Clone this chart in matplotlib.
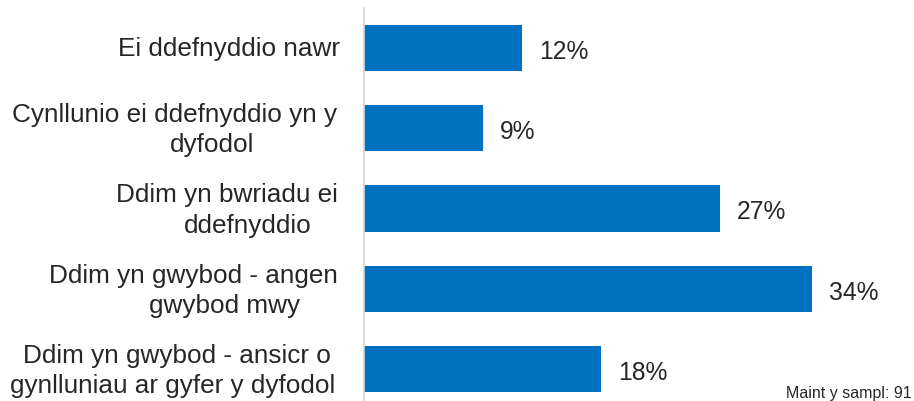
import matplotlib
matplotlib.use("Agg")
import matplotlib.pyplot as plt
import matplotlib.transforms as mtransforms

plt.rcParams['font.family'] = ['Liberation Sans', 'DejaVu Sans']

# Survey answers (top to bottom) and share of respondents in percent
categories = [
    ["Ei ddefnyddio nawr"],
    ["Cynllunio ei ddefnyddio yn y", "dyfodol"],
    ["Ddim yn bwriadu ei", "ddefnyddio"],
    ["Ddim yn gwybod - angen", "gwybod mwy"],
    ["Ddim yn gwybod - ansicr o", "gynlluniau ar gyfer y dyfodol"],
]
values = [12, 9, 27, 34, 18]
sample_note = "Maint y sampl: 91"

W, H = 914, 401
BAR_COLOR = "#0070C0"
TEXT_COLOR = "#262626"

fig = plt.figure(figsize=(W / 100, H / 100), dpi=100)
ax = fig.add_axes([364 / W, 0, (891 - 364) / W, 1 - 8 / H])

pos = list(range(len(values)))
ax.barh(pos, values, height=0.575, color=BAR_COLOR)
ax.set_xlim(0, 40)
ax.set_ylim(4.4, -0.5)

for s in ["top", "right", "bottom"]:
    ax.spines[s].set_visible(False)
ax.spines["left"].set_color("#D6D6D6")
ax.spines["left"].set_linewidth(1.2)
ax.set_xticks([])
ax.set_yticks([])

# value labels just past the end of each bar
for p, v in zip(pos, values):
    ax.annotate(f"{v}%", xy=(v, p + 0.135), xytext=(12.5, 0),
                textcoords="offset points", ha="left", va="baseline",
                fontsize=17.7, color=TEXT_COLOR)

# category labels, each line centred on its own horizontal position (pixels)
line_centres = [
    [228.5],
    [175, 212.5],
    [227, 247.5],
    [193.5, 225],
    [176.5, 172.5],
]
tr = mtransforms.blended_transform_factory(fig.transFigure, ax.transData)
for p, lines, centres in zip(pos, categories, line_centres):
    if len(lines) == 1:
        offsets = [0.1]
    else:
        offsets = [-0.075, 0.30]
    for text, cx, dy in zip(lines, centres, offsets):
        ax.text(cx / W, p + dy, text, transform=tr, ha="center",
                va="baseline", fontsize=18.8, color=TEXT_COLOR, clip_on=False)

fig.text(912 / W, 1 - 398 / H, sample_note, ha="right", va="baseline",
         fontsize=11.5, color=TEXT_COLOR)

fig.savefig("out.png", dpi=100)
